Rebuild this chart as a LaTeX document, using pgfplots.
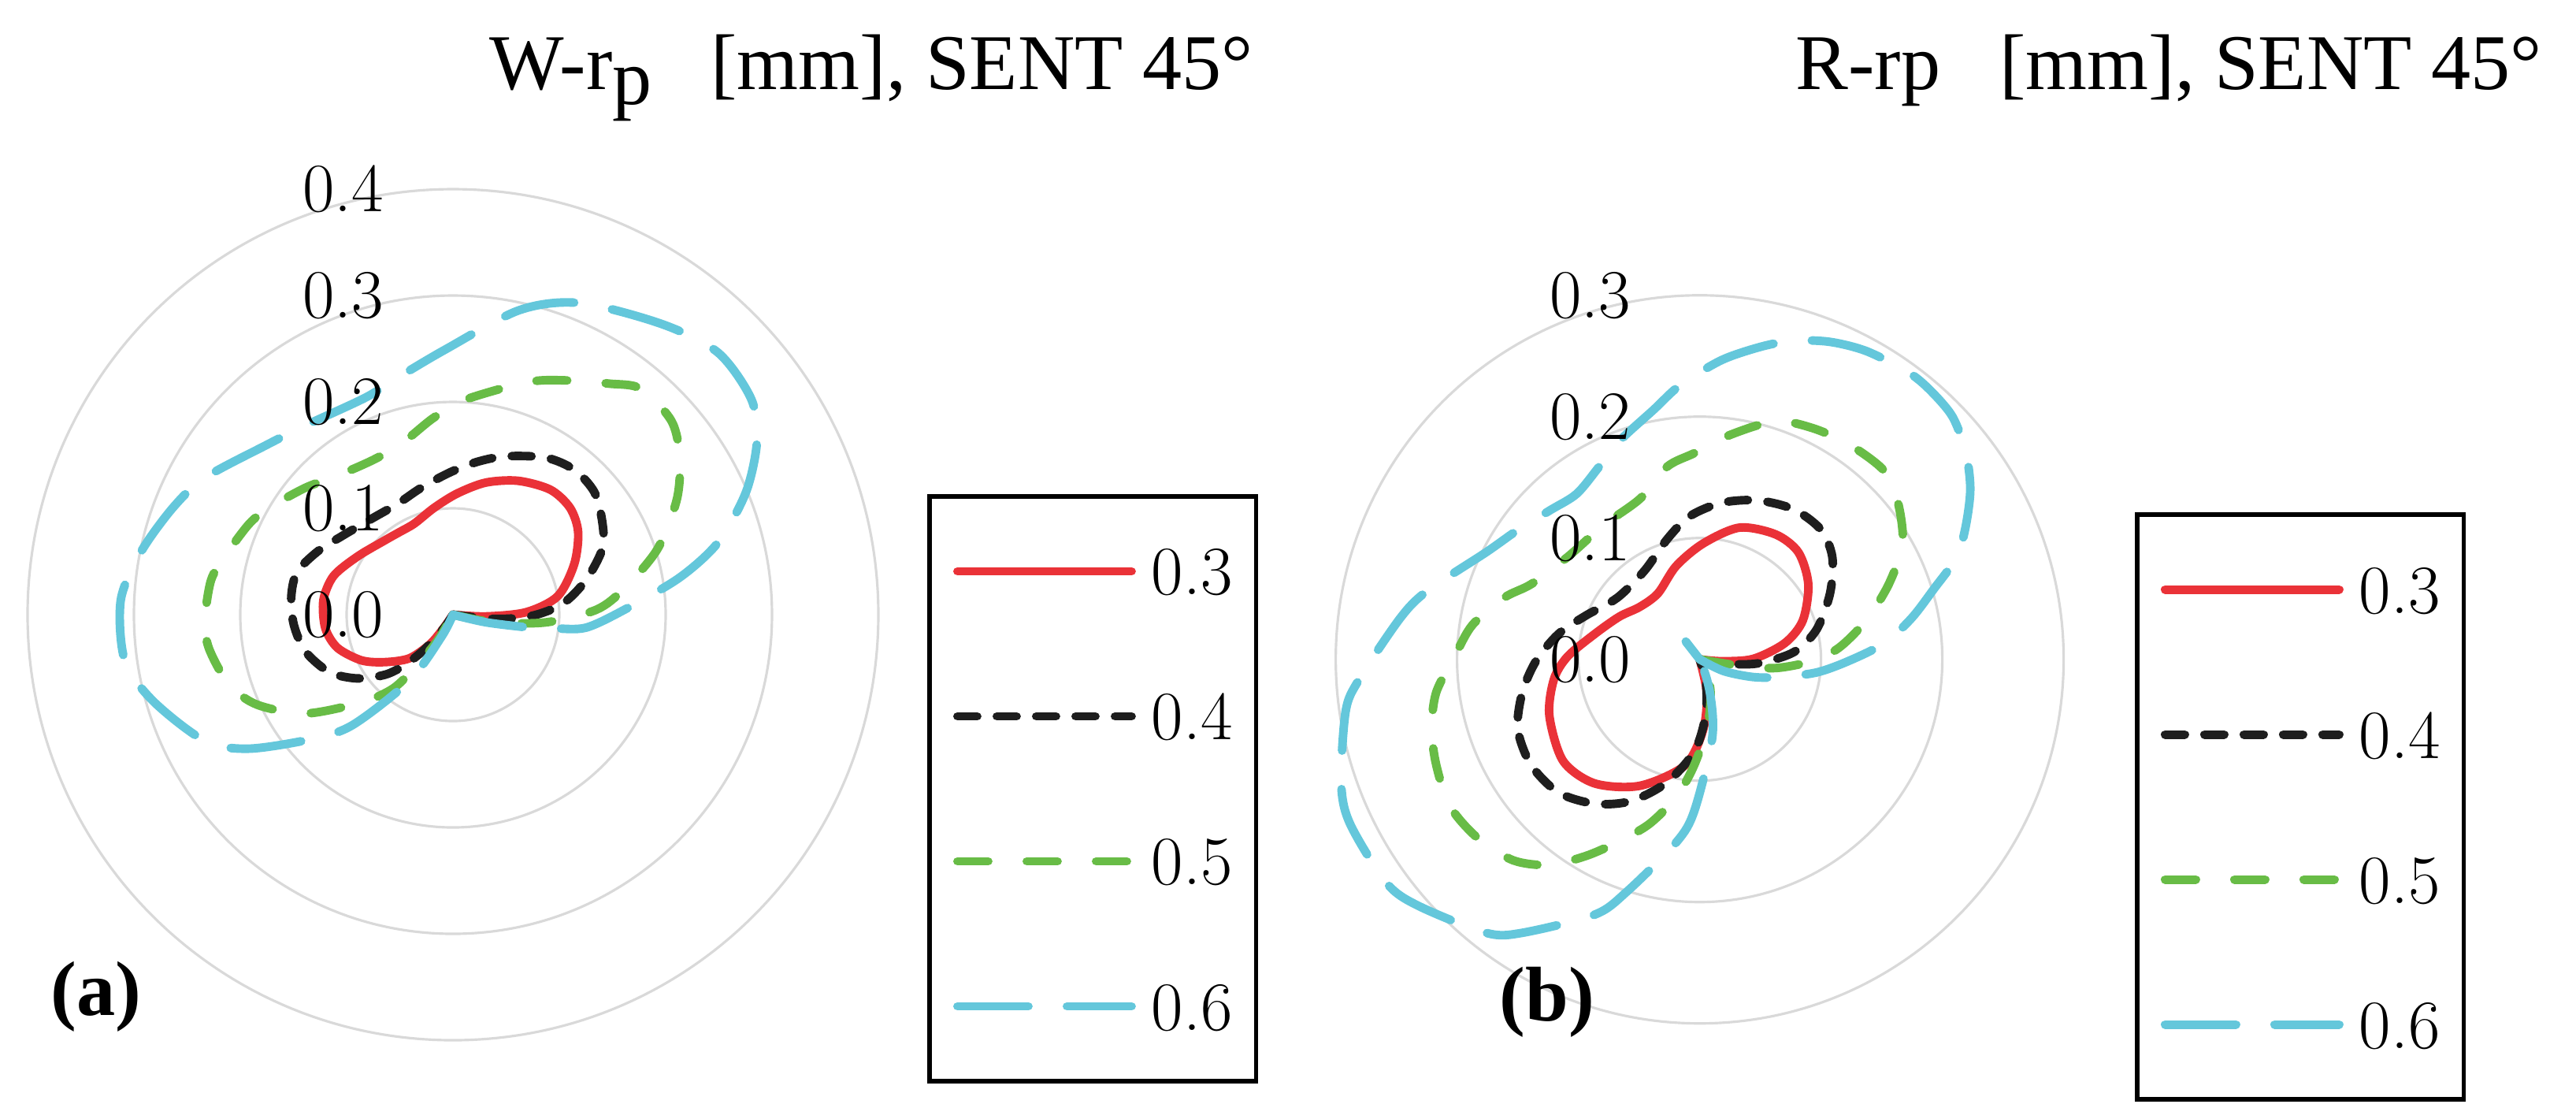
\documentclass[border=0pt]{standalone}
\usepackage{pgfplots}
\pgfplotsset{compat=1.18}
\usepgfplotslibrary{polar}
\usepackage{fontspec}
\newfontfamily\titlefont{Liberation Serif}

\definecolor{cRed}{RGB}{234,50,56}
\definecolor{cBlack}{RGB}{30,30,30}
\definecolor{cGreen}{RGB}{104,188,70}
\definecolor{cCyan}{RGB}{100,199,219}
\definecolor{cGrid}{RGB}{217,217,217}

\pgfplotsset{
  radar/.style={
    scale only axis,
    anchor=center,
    xtick=\empty,
    yticklabels={},
    yticklabel style={text opacity=0},
    major tick length=0pt,
    ymajorgrids,
    grid style={draw=cGrid, line width=0.9pt},
    axis line style={draw=none},
    clip=false,
    legend image code/.code={\draw[##1] (0cm,0cm) -- (2.21cm,0cm);},
    legend style={draw=black, line width=1.7pt, inner xsep=0.3cm, inner ysep=0.65cm,
      row sep=1.24cm, anchor=north west,
      font=\fontsize{25}{30}\selectfont,
      nodes={inner xsep=0pt, inner ysep=0pt, text height=0.6cm, text depth=0cm},
      /tikz/every odd column/.style={column sep=0.2cm}},
    legend cell align=left,
  },
  s3/.style={cRed, line width=3.1pt, line cap=round, line join=round, smooth},
  s4/.style={cBlack, line width=3.1pt, line cap=round, line join=round, smooth, dash pattern=on 0.25cm off 0.25cm},
  s5/.style={cGreen, line width=3.1pt, line cap=round, line join=round, smooth, dash pattern=on 0.39cm off 0.49cm},
  s6/.style={cCyan, line width=3.1pt, line cap=round, line join=round, smooth, dash pattern=on 0.90cm off 0.49cm},
}
\tikzset{ticklab/.style={anchor=east, inner sep=0pt, xshift=-0.87cm, font=\fontsize{25}{30}\selectfont}}

\begin{document}
\begin{tikzpicture}
\useasboundingbox (0,0) rectangle (32.70cm,-14.19cm);

% (a) W-rp
\begin{polaraxis}[radar,
    at={(5.75cm,-7.80cm)}, width=10.8cm, height=10.8cm,
    ymin=0, ymax=0.4, ytick={0.1,0.2,0.3,0.4},
    legend style={at={(1.0574,0.6417)}}]
\addplot[s3] coordinates {(300,0) (357,0.031) (2,0.069) (10,0.100) (22.6,0.1235) (33.4,0.141) (42.3,0.149) (52,0.149) (64,0.140) (76,0.128) (88,0.114) (100,0.102) (113,0.093) (123,0.0925) (132,0.0946) (148.5,0.105) (162,0.118) (173.6,0.1226) (186,0.1207) (196,0.113) (206.6,0.096) (215,0.0777) (225,0.058) (232,0.0355) (235,0.0166) (300,0)};
\addlegendentry{0.3}
\addplot[s4] coordinates {(300,0) (354,0.038) (358.8,0.0725) (5.5,0.103) (14.5,0.129) (24,0.154) (32.4,0.166) (41,0.176) (50,0.1777) (59.3,0.1716) (71.5,0.157) (80.8,0.1457) (91,0.134) (104,0.123) (116.6,0.1165) (131.4,0.1187) (144.8,0.128) (155,0.1405) (164.7,0.152) (173.5,0.153) (183.5,0.150) (194,0.143) (205,0.128) (213.7,0.108) (221.6,0.0848) (226.4,0.0646) (231,0.0408) (236,0.015) (300,0)};
\addlegendentry{0.4}
\addplot[s5] coordinates {(300,0) (349.5,0.039) (355.3,0.0878) (2,0.135) (8.7,0.163) (17.8,0.202) (27.3,0.237) (34.9,0.26) (41.6,0.2746) (50.2,0.2764) (56,0.262) (64,0.245) (72,0.230) (86.6,0.2026) (95.6,0.186) (106.7,0.168) (117.2,0.1637) (129.8,0.170) (139.3,0.183) (149.9,0.200) (156,0.2098) (165.6,0.2213) (171.9,0.2298) (181.3,0.2333) (187.9,0.2316) (197.3,0.2206) (204.7,0.2026) (213.8,0.167) (223.8,0.119) (231,0.089) (234.6,0.0574) (239,0.028) (300,0)};
\addlegendentry{0.5}
\addplot[s6] coordinates {(300,0) (347,0.032) (350.5,0.074) (352.3,0.096) (354.4,0.1255) (1.6,0.161) (9.3,0.216) (15.3,0.2588) (22.7,0.2987) (29.6,0.3287) (35.8,0.346) (44.6,0.3505) (54.1,0.3368) (67.8,0.3164) (77.7,0.293) (91.6,0.2495) (103,0.229) (112,0.220) (128,0.2256) (138,0.2375) (151.1,0.2664) (159.1,0.2819) (168.7,0.2994) (177.5,0.3127) (187.9,0.3117) (196,0.2936) (207,0.2616) (213.3,0.2294) (221.6,0.1756) (227.8,0.1395) (236.6,0.074) (242.6,0.023) (300,0)};
\addlegendentry{0.6}
\node[ticklab] at (axis cs:90,0.4) {0.4};
\node[ticklab] at (axis cs:90,0.3) {0.3};
\node[ticklab] at (axis cs:90,0.2) {0.2};
\node[ticklab] at (axis cs:90,0.1) {0.1};
\node[ticklab] at (axis cs:90,0) {0.0};
\end{polaraxis}

% (b) R-rp
\begin{polaraxis}[radar,
    at={(21.576cm,-8.367cm)}, width=9.24cm, height=9.24cm,
    ymin=0, ymax=0.3, ytick={0.1,0.2,0.3},
    legend style={at={(1.0978,0.702)}}]
\addplot[s3] coordinates {(320,0) (355.2,0.018) (0.5,0.044) (10.8,0.0714) (20.7,0.0909) (34.7,0.1089) (47.3,0.120) (58.7,0.1205) (73.2,0.1134) (88.2,0.0956) (104.2,0.0793) (122.2,0.0644) (138.7,0.0656) (152,0.075) (166.4,0.089) (178.8,0.109) (187.8,0.1213) (200.5,0.1323) (216.6,0.1403) (229.7,0.134) (244.7,0.1152) (262.2,0.088) (273,0.0575) (282,0.028) (320,0)};
\addlegendentry{0.3}
\addplot[s4] coordinates {(320,0) (350,0.02) (356,0.0479) (4.4,0.0778) (14.3,0.0994) (26.9,0.1205) (37.6,0.138) (46.9,0.1463) (57.9,0.1459) (70,0.1394) (82,0.1303) (94,0.1182) (105,0.1028) (121.9,0.0861) (143.2,0.0848) (159,0.1006) (169.8,0.1183) (180.6,0.135) (190.7,0.1489) (201,0.1606) (212,0.164) (223.3,0.160) (234,0.147) (244,0.130) (254.7,0.1057) (266.6,0.0763) (276,0.0465) (285,0.02) (320,0)};
\addlegendentry{0.4}
\addplot[s5] coordinates {(320,0) (351,0.0332) (353.5,0.0631) (359.1,0.0925) (4.8,0.1153) (13.2,0.141) (21.7,0.1678) (29.7,0.1925) (38.3,0.2083) (45.6,0.2174) (55.4,0.2157) (64.1,0.212) (72.3,0.206) (82.2,0.1868) (91.5,0.170) (99.6,0.161) (110.3,0.1413) (125.6,0.136) (142.3,0.1378) (155.9,0.152) (162.5,0.169) (171.4,0.1895) (179.4,0.2022) (187.2,0.219) (194.6,0.2283) (201.9,0.234) (210.4,0.2388) (218.7,0.235) (227.1,0.226) (233.8,0.2099) (239.9,0.1873) (245.7,0.1654) (252.9,0.1421) (260.3,0.115) (267,0.0874) (277,0.0541) (290,0.0254) (320,0)};
\addlegendentry{0.5}
\addplot[s6] coordinates {(320,0) (334,0.022) (341.7,0.0464) (347.6,0.068) (353.6,0.0969) (359.3,0.1224) (5,0.1528) (11,0.1779) (16.8,0.2019) (21.7,0.2281) (26.7,0.2456) (32.2,0.2636) (37.8,0.2777) (43.8,0.2888) (49.6,0.2921) (54.2,0.2924) (61.6,0.2888) (67.7,0.2828) (73.5,0.2739) (78.7,0.263) (85.8,0.2473) (94,0.2267) (100.5,0.2091) (110,0.192) (117.5,0.1792) (126.6,0.170) (135,0.174) (144.6,0.184) (153.4,0.197) (165.9,0.2316) (172.2,0.2493) (183.3,0.281) (188.3,0.2949) (199.1,0.3127) (205.2,0.3185) (215.5,0.3172) (221.2,0.3083) (232,0.286) (237,0.2687) (247.6,0.2276) (252.5,0.2011) (262.7,0.152) (268,0.1247) (279,0.0658) (287,0.0289) (297,0) (308,-0.02) (320,0)};
\addlegendentry{0.6}
\node[ticklab] at (axis cs:90,0.3) {0.3};
\node[ticklab] at (axis cs:90,0.2) {0.2};
\node[ticklab] at (axis cs:90,0.1) {0.1};
\node[ticklab] at (axis cs:90,0) {0.0};
\end{polaraxis}

\node[anchor=base west, inner sep=0pt, font=\titlefont\fontsize{28.5}{34}\selectfont]
  at (6.21cm,-1.13cm) {W-r\raisebox{-0.19cm}{p}\hspace{0.75em}[mm], SENT 45°};
\node[anchor=base west, inner sep=0pt, font=\titlefont\fontsize{28.5}{34}\selectfont]
  at (22.79cm,-1.13cm) {R-rp\hspace{0.75em}[mm], SENT 45°};
\node[font=\titlefont\bfseries\fontsize{28}{34}\selectfont] at (1.22cm,-12.65cm) {(a)};
\node[font=\titlefont\bfseries\fontsize{28}{34}\selectfont] at (19.64cm,-12.72cm) {(b)};
\end{tikzpicture}
\end{document}
